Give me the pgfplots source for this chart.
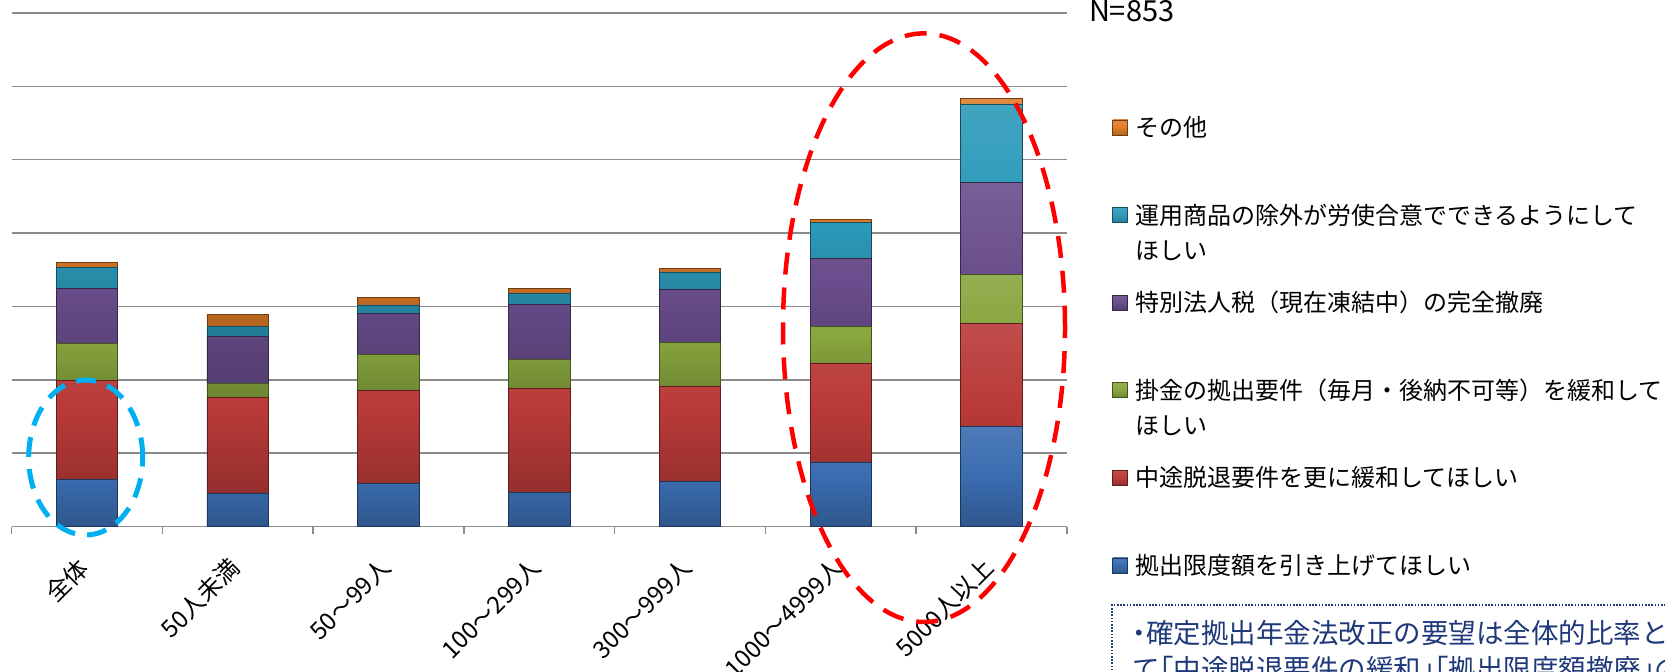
\documentclass[border=0pt]{standalone}
\usepackage{fontspec}
\setmainfont{Noto Sans CJK JP}
\usepackage{pgfplots}
\pgfplotsset{compat=1.18}
\definecolor{cBlue}{RGB}{58,108,176}
\definecolor{cRed}{RGB}{185,58,56}
\definecolor{cGreen}{RGB}{136,166,62}
\definecolor{cPurple}{RGB}{105,77,140}
\definecolor{cTeal}{RGB}{44,154,186}
\definecolor{cOrange}{RGB}{226,124,40}
\definecolor{cCyan}{RGB}{0,176,240}
\definecolor{cNavy}{RGB}{30,56,122}
\definecolor{cGrid}{RGB}{140,140,140}
\pgfplotsset{bs/.style={draw=#1!50!black, line width=0.4bp, shade, top color=#1!90!white, bottom color=#1!80!black, middle color=#1}}
\begin{document}
\begin{tikzpicture}
\useasboundingbox (0,0) rectangle (832.5bp,336bp);
\clip (0,0) rectangle (832.5bp,336bp);
\begin{axis}[
  at={(5.75bp,72.75bp)}, anchor=south west,
  scale only axis, width=527.75bp, height=256.75bp,
  ybar stacked, bar width=30.75bp,
  xmin=-0.5, xmax=6.5, ymin=0, ymax=70,
  axis x line*=bottom, axis y line*=left,
  y axis line style={draw=none},
  x axis line style={draw=cGrid, line width=0.75bp},
  ytick={0,10,...,70}, yticklabels={}, ytick style={draw=none},
  ymajorgrids, major grid style={draw=cGrid, line width=0.75bp},
  xtick={0,1,2,3,4,5,6},
  xticklabels={全体,50人未満,50～99人,100～299人,300～999人,1000～4999人,5000人以上},
  major x tick style={draw=none},
  minor xtick={-0.5,0.5,1.5,2.5,3.5,4.5,5.5,6.5},
  minor x tick style={draw=cGrid, line width=0.75bp},
  tick align=outside, major tick length=0pt, minor tick length=3.5bp,
  xticklabel style={rotate=45, anchor=east, inner sep=4bp, xshift=-9.8bp, yshift=-12.2bp, font=\fontsize{12bp}{14bp}\selectfont},
  reverse legend,
  legend image code/.code={\draw[#1, line width=0.4bp] (0bp,0.75bp) rectangle (7.5bp,8.25bp);},
  legend style={draw=none, fill=none, at={(1.0426,0.7994)}, anchor=north west,
    inner sep=0pt, row sep=0pt, cells={anchor=base west},
    nodes={inner sep=0pt, text height=10bp, text depth=33.8bp,
      font=\fontsize{12bp}{17.5bp}\selectfont},
    /tikz/every odd column/.append style={column sep=3.5bp}},
]
\addplot[bs=cBlue] coordinates {(0,6.4) (1,4.5) (2,5.9) (3,4.6) (4,6.1) (5,8.8) (6,13.6)};
\addlegendentry{拠出限度額を引き上げてほしい}
\addplot[bs=cRed] coordinates {(0,13.5) (1,13.1) (2,12.7) (3,14.2) (4,13.0) (5,13.5) (6,14.1)};
\addlegendentry{中途脱退要件を更に緩和してほしい}
\addplot[bs=cGreen] coordinates {(0,5.0) (1,1.9) (2,4.9) (3,4.0) (4,6.0) (5,5.0) (6,6.6)};
\addlegendentry{\begin{tabular}[t]{@{}l@{}}掛金の拠出要件（毎月・後納不可等）を緩和して\\ほしい\end{tabular}}
\addplot[bs=cPurple] coordinates {(0,7.5) (1,6.4) (2,5.6) (3,7.5) (4,7.2) (5,9.2) (6,12.6)};
\addlegendentry{特別法人税（現在凍結中）の完全撤廃}
\addplot[bs=cTeal] coordinates {(0,2.9) (1,1.4) (2,1.1) (3,1.5) (4,2.4) (5,4.9) (6,10.7)};
\addlegendentry{\begin{tabular}[t]{@{}l@{}}運用商品の除外が労使合意でできるようにして\\ほしい\end{tabular}}
\addplot[bs=cOrange] coordinates {(0,0.7) (1,1.6) (2,1.0) (3,0.6) (4,0.5) (5,0.5) (6,0.8)};
\addlegendentry{その他}
\end{axis}
\draw[cCyan, line width=2.5bp, dash pattern=on 10bp off 6bp] (42.85bp,107.25bp) ellipse [x radius=28.5bp, y radius=38.75bp];
\draw[red, line width=2.25bp, dash pattern=on 11bp off 6.5bp] (462bp,172.15bp) ellipse [x radius=70.5bp, y radius=147.15bp];
\node[anchor=base west, inner sep=0pt, font=\fontsize{14.5bp}{16bp}\selectfont] at (544.3bp,325bp) {N=853};
\draw[cNavy, line width=0.75bp, dash pattern=on 0.8bp off 0.8bp] (556bp,-20bp) -- (556bp,33.5bp) -- (900bp,33.5bp);
\node[anchor=base west, inner sep=0pt, align=left, text=cNavy, font=\fontsize{13.75bp}{18bp}\selectfont] at (566bp,-3.75bp)
  {\makebox[0.5em][c]{・}確定拠出年金法改正の要望は全体的比率と\\て\makebox[0.5em][r]{「}中途脱退要件の緩和\makebox[0.5em][l]{」}\makebox[0.5em][r]{「}拠出限度額撤廃\makebox[0.5em][l]{」}の順に要望が多い};
\end{tikzpicture}
\end{document}
